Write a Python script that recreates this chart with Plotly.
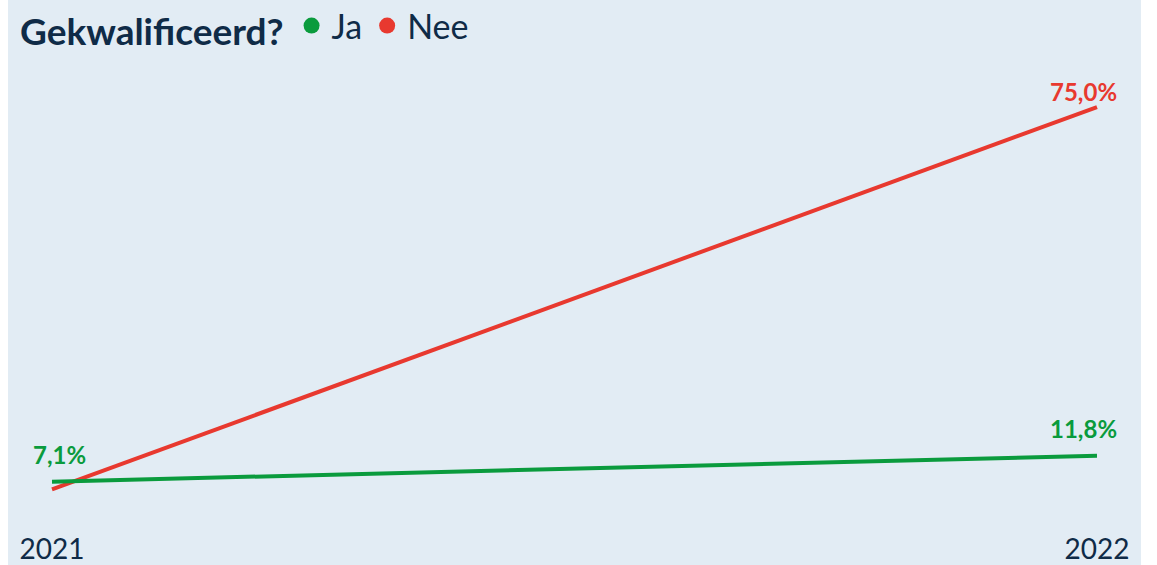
import plotly.graph_objects as go

years = [2021, 2022]
year_labels = ["2021", "2022"]
ja = [7.1, 11.8]
nee = [5.7, 75.0]
ja_labels = ["7,1%", "11,8%"]
nee_labels = ["", "75,0%"]

GREEN = "#0a9b3d"
RED = "#e8392f"
NAVY = "#0f2b47"
BG = "#e2ecf4"
FONT = "Lato"

fig = go.Figure()
fig.add_trace(go.Scatter(x=years, y=nee, mode="lines", line=dict(color=RED, width=4),
                         showlegend=False, hoverinfo="skip"))
fig.add_trace(go.Scatter(x=years, y=ja, mode="lines", line=dict(color=GREEN, width=4),
                         showlegend=False, hoverinfo="skip"))
# legend entries
fig.add_trace(go.Scatter(x=[None], y=[None], mode="markers", name="Ja",
                         marker=dict(color=GREEN, size=16)))
fig.add_trace(go.Scatter(x=[None], y=[None], mode="markers", name="Nee",
                         marker=dict(color=RED, size=16)))

annotations = []
for i, (x, v, t) in enumerate(zip(years, ja, ja_labels)):
    if t:
        annotations.append(dict(x=x, y=v, text="<b>%s</b>" % t, showarrow=False,
                                xshift=7 if i == 0 else -14, yshift=27,
                                font=dict(family=FONT, size=24, color=GREEN)))
for i, (x, v, t) in enumerate(zip(years, nee, nee_labels)):
    if t:
        annotations.append(dict(x=x, y=v, text="<b>%s</b>" % t, showarrow=False,
                                xshift=-14, yshift=16,
                                font=dict(family=FONT, size=24, color=RED)))

fig.update_layout(
    width=1157, height=565,
    margin=dict(l=8, r=16, t=0, b=0, autoexpand=False),
    paper_bgcolor="white",
    plot_bgcolor=BG,
    font=dict(family=FONT, color=NAVY),
    showlegend=True,
    legend=dict(
        orientation="h", x=10 / 1133, y=1 + 3 / 565, xanchor="left", yanchor="top",
        bgcolor="rgba(0,0,0,0)",
        title=dict(text="<b>Gekwalificeerd?</b>", side="left",
                   font=dict(family=FONT, size=37, color=NAVY)),
        font=dict(family=FONT, size=34, color=NAVY),
        itemwidth=30, tracegroupgap=0,
    ),
    xaxis=dict(range=[2021 - 44 / 1045, 2022 + 44 / 1045], tickvals=years, ticktext=year_labels,
               showgrid=False, zeroline=False, showline=False, ticks="",
               ticklabelposition="inside", ticklabelstandoff=-3,
               tickfont=dict(family=FONT, size=28, color=NAVY)),
    yaxis=dict(range=[-8.0, 94.4], showgrid=False, zeroline=False, showline=False,
               showticklabels=False, ticks=""),
    annotations=annotations,
)

fig.write_html("out.html", post_script="document.body.style.margin='0';",
               config={"displayModeBar": False})
